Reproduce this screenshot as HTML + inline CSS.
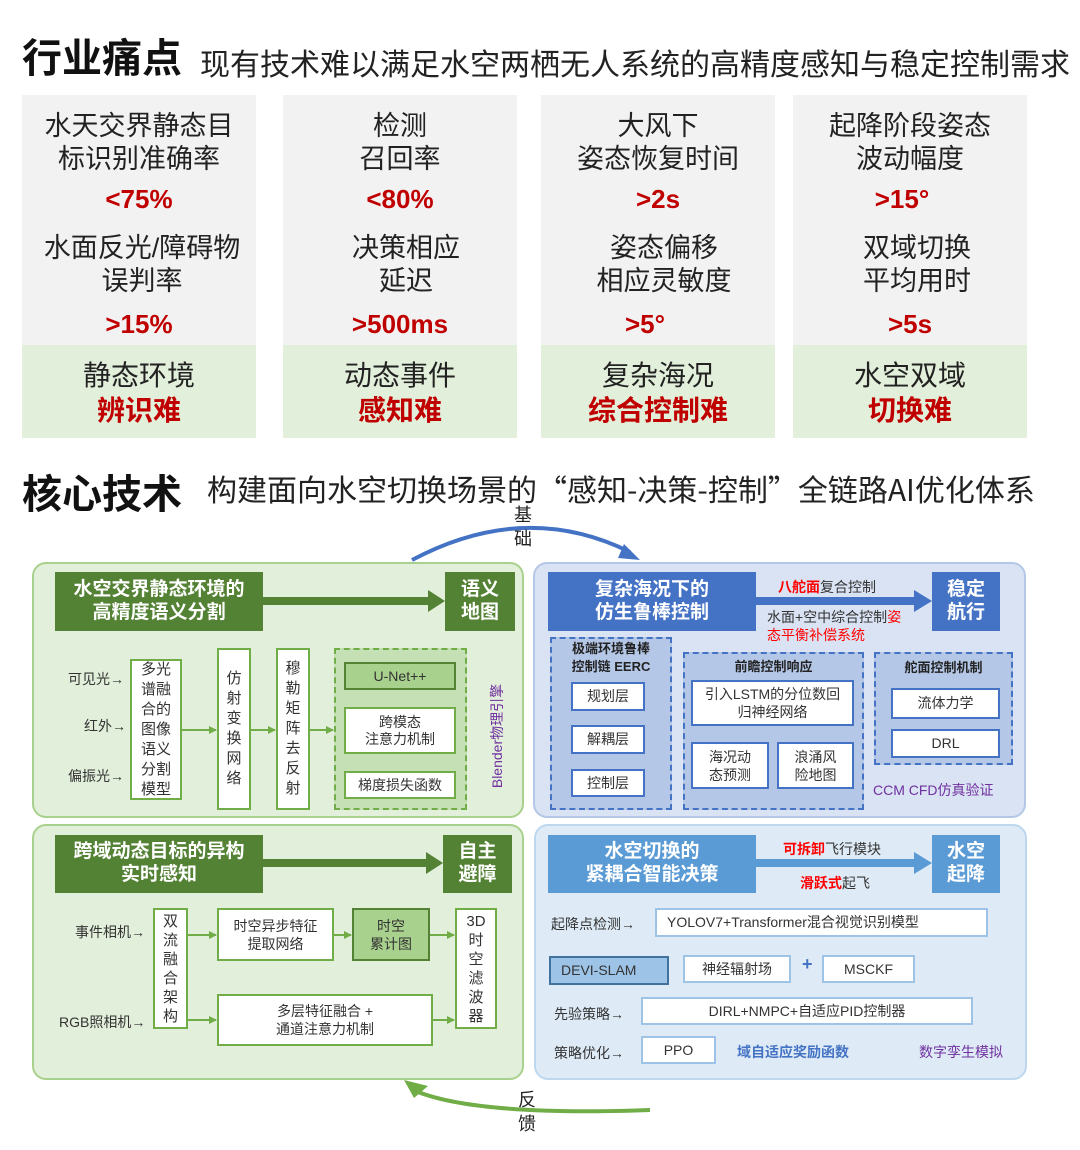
<!DOCTYPE html>
<html><head><meta charset="utf-8"><style>
*{margin:0;padding:0;box-sizing:border-box}
body{width:1080px;height:1150px;background:#fff;position:relative;overflow:hidden;font-family:"Liberation Sans","Noto Sans CJK SC",sans-serif;color:#222}
.a{position:absolute}
.c{position:absolute;display:flex;align-items:center;justify-content:center;text-align:center;line-height:1.2}
.t{position:absolute;white-space:nowrap}
.gray{background:#f2f2f2}
.lg{background:#e2efda}
.m{font-size:27px;color:#222;line-height:33px;text-align:center;width:234px;white-space:nowrap}
.r{font-size:26px;color:#c00000;font-weight:bold;text-align:center;width:234px}
.gh{background:#548235;color:#fff;font-size:19px;font-weight:bold}
.bh{background:#4472c4;color:#fff;font-size:19px;font-weight:bold}
.lbh{background:#5b9bd5;color:#fff;font-size:19px;font-weight:bold}
.wg{background:#fff;border:2px solid #70ad47;font-size:15px;color:#333}
.wb{background:#fff;border:2px solid #4472c4;font-size:14px;color:#333}
.wl{background:#fff;border:2px solid #9dc3e6;font-size:14px;color:#333}
.s{font-size:14px;color:#333}
.red{color:#ff0000;font-weight:bold}
</style></head><body>

<div class="t" style="left:22px;top:26px;font-size:40px;font-weight:bold;color:#111">行业痛点</div>
<div class="t" style="left:200px;top:40px;font-size:30px;color:#222">现有技术难以满足水空两栖无人系统的高精度感知与稳定控制需求</div>

<div class="a gray" style="left:22px;top:95px;width:234px;height:250px"></div>
<div class="a lg" style="left:22px;top:345px;width:234px;height:93px"></div>
<div class="a gray" style="left:283px;top:95px;width:234px;height:250px"></div>
<div class="a lg" style="left:283px;top:345px;width:234px;height:93px"></div>
<div class="a gray" style="left:541px;top:95px;width:234px;height:250px"></div>
<div class="a lg" style="left:541px;top:345px;width:234px;height:93px"></div>
<div class="a gray" style="left:793px;top:95px;width:234px;height:250px"></div>
<div class="a lg" style="left:793px;top:345px;width:234px;height:93px"></div>

<div class="a m" style="left:22px;top:110px">水天交界静态目<br>标识别准确率</div>
<div class="a r" style="left:22px;top:184px">&lt;75%</div>
<div class="a m" style="left:25px;top:232px">水面反光/障碍物<br>误判率</div>
<div class="a r" style="left:22px;top:309px">&gt;15%</div>
<div class="a m" style="left:22px;top:358px;font-size:28px;line-height:35px">静态环境<br><span style="color:#c00000;font-weight:bold">辨识难</span></div>

<div class="a m" style="left:283px;top:110px">检测<br>召回率</div>
<div class="a r" style="left:283px;top:184px">&lt;80%</div>
<div class="a m" style="left:289px;top:232px">决策相应<br>延迟</div>
<div class="a r" style="left:283px;top:309px">&gt;500ms</div>
<div class="a m" style="left:283px;top:358px;font-size:28px;line-height:35px">动态事件<br><span style="color:#c00000;font-weight:bold">感知难</span></div>

<div class="a m" style="left:541px;top:110px">大风下<br>姿态恢复时间</div>
<div class="a r" style="left:541px;top:184px">&gt;2s</div>
<div class="a m" style="left:547px;top:232px">姿态偏移<br>相应灵敏度</div>
<div class="a r" style="left:528px;top:309px">&gt;5°</div>
<div class="a m" style="left:541px;top:358px;font-size:28px;line-height:35px">复杂海况<br><span style="color:#c00000;font-weight:bold">综合控制难</span></div>

<div class="a m" style="left:793px;top:110px">起降阶段姿态<br>波动幅度</div>
<div class="a r" style="left:785px;top:184px">&gt;15°</div>
<div class="a m" style="left:800px;top:232px">双域切换<br>平均用时</div>
<div class="a r" style="left:793px;top:309px">&gt;5s</div>
<div class="a m" style="left:793px;top:358px;font-size:28px;line-height:35px">水空双域<br><span style="color:#c00000;font-weight:bold">切换难</span></div>

<div class="t" style="left:22px;top:462px;font-size:40px;font-weight:bold;color:#111">核心技术</div>
<div class="t" style="left:207px;top:466px;font-size:30px;color:#222;font-family:'Noto Sans CJK SC','Liberation Sans',sans-serif">构建面向水空切换场景的“感知-决策-控制”全链路AI优化体系</div>

<div class="a" style="left:32px;top:562px;width:492px;height:256px;background:#e2efda;border:2px solid #a9d18e;border-radius:14px"></div>
<div class="a" style="left:533px;top:562px;width:493px;height:256px;background:#dae3f3;border:2px solid #b4c7e7;border-radius:14px"></div>
<div class="a" style="left:32px;top:824px;width:492px;height:256px;background:#e2efda;border:2px solid #a9d18e;border-radius:14px"></div>
<div class="a" style="left:534px;top:824px;width:493px;height:256px;background:#deebf7;border:2px solid #bdd7ee;border-radius:14px"></div>

<svg class="a" style="left:0;top:0" width="1080" height="1150">
<defs>
<marker id="ag" markerWidth="8" markerHeight="8" refX="7" refY="4" orient="auto" markerUnits="userSpaceOnUse"><path d="M0,0L8,4L0,8z" fill="#70ad47"/></marker>
</defs>
<path d="M412,560 Q525,500 630,552" fill="none" stroke="#4472c4" stroke-width="4"/>
<path d="M624,544 L640,560 L618,558z" fill="#4472c4"/>
<path d="M418,1092 Q480,1116 650,1110" fill="none" stroke="#70ad47" stroke-width="4"/>
<path d="M404,1080 L428,1086 L414,1098z" fill="#70ad47"/>
<path d="M263,597 L428,597 L428,590 L445,601 L428,612 L428,605 L263,605z" fill="#548235"/>
<path d="M756,597 L914,597 L914,590 L932,601 L914,612 L914,605 L756,605z" fill="#4472c4"/>
<path d="M263,859 L426,859 L426,852 L443,863 L426,874 L426,867 L263,867z" fill="#548235"/>
<path d="M756,859 L914,859 L914,852 L932,863 L914,874 L914,867 L756,867z" fill="#5b9bd5"/>
<g stroke="#70ad47" stroke-width="2" marker-end="url(#ag)">
<line x1="182" y1="730" x2="216" y2="730"/>
<line x1="251" y1="730" x2="275" y2="730"/>
<line x1="310" y1="730" x2="333" y2="730"/>
<line x1="188" y1="935" x2="216" y2="935"/>
<line x1="334" y1="935" x2="351" y2="935"/>
<line x1="430" y1="935" x2="454" y2="935"/>
<line x1="188" y1="1020" x2="216" y2="1020"/>
<line x1="433" y1="1020" x2="454" y2="1020"/>
</g>
</svg>
<div class="t" style="left:514px;top:503px;font-size:18px;line-height:24px;width:20px">基<br>础</div>
<div class="t" style="left:518px;top:1088px;font-size:18px;line-height:24px;width:20px">反<br>馈</div>

<div class="c gh" style="left:55px;top:572px;width:208px;height:59px">水空交界静态环境的<br>高精度语义分割</div>
<div class="c gh" style="left:445px;top:572px;width:70px;height:59px">语义<br>地图</div>
<div class="t s" style="left:68px;top:669px">可见光→</div>
<div class="t s" style="left:84px;top:716px">红外→</div>
<div class="t s" style="left:68px;top:766px">偏振光→</div>
<div class="c wg" style="left:130px;top:659px;width:52px;height:141px;font-size:15px;line-height:20px">多光<br>谱融<br>合的<br>图像<br>语义<br>分割<br>模型</div>
<div class="c wg" style="left:217px;top:648px;width:34px;height:162px;font-size:15px;line-height:20px">仿<br>射<br>变<br>换<br>网<br>络</div>
<div class="c wg" style="left:276px;top:648px;width:34px;height:162px;font-size:15px;line-height:20px">穆<br>勒<br>矩<br>阵<br>去<br>反<br>射</div>
<div class="a" style="left:334px;top:648px;width:133px;height:162px;background:#c5e0b4;border:2px dashed #70ad47"></div>
<div class="c" style="left:344px;top:662px;width:112px;height:28px;background:#a9d18e;border:2px solid #548235;font-size:14px;color:#333">U-Net++</div>
<div class="c wg" style="left:344px;top:707px;width:112px;height:47px;font-size:14px">跨模态<br>注意力机制</div>
<div class="c wg" style="left:344px;top:771px;width:112px;height:28px;font-size:14px">梯度损失函数</div>
<div class="t" style="left:441px;top:727px;width:112px;height:18px;text-align:center;font-size:14px;line-height:18px;color:#7030a0;transform:rotate(-90deg)">Blender物理引擎</div>

<div class="c bh" style="left:548px;top:572px;width:208px;height:59px">复杂海况下的<br>仿生鲁棒控制</div>
<div class="c bh" style="left:932px;top:572px;width:68px;height:59px">稳定<br>航行</div>
<div class="t" style="left:778px;top:577px;font-size:14px;color:#333"><span class="red">八舵面</span>复合控制</div>
<div class="t" style="left:767px;top:608px;font-size:14px;line-height:18px;color:#333">水面+空中综合控制<span style="color:#ff0000">姿</span><br><span style="color:#ff0000">态平衡补偿系统</span></div>
<div class="a" style="left:550px;top:637px;width:122px;height:173px;background:#b4c7e7;border:2px dashed #4472c4"></div>
<div class="t" style="left:550px;top:640px;width:122px;text-align:center;font-size:13px;font-weight:bold;line-height:18px">极端环境鲁棒<br>控制链 EERC</div>
<div class="c wb" style="left:571px;top:682px;width:74px;height:29px">规划层</div>
<div class="c wb" style="left:571px;top:725px;width:74px;height:29px">解耦层</div>
<div class="c wb" style="left:571px;top:769px;width:74px;height:28px">控制层</div>
<div class="a" style="left:683px;top:652px;width:181px;height:158px;background:#b4c7e7;border:2px dashed #4472c4"></div>
<div class="t" style="left:683px;top:656px;width:181px;text-align:center;font-size:13px;font-weight:bold">前瞻控制响应</div>
<div class="c wb" style="left:691px;top:680px;width:163px;height:46px;line-height:18px">引入LSTM的分位数回<br>归神经网络</div>
<div class="c wb" style="left:691px;top:742px;width:78px;height:47px;line-height:18px">海况动<br>态预测</div>
<div class="c wb" style="left:777px;top:742px;width:77px;height:47px;line-height:18px">浪涌风<br>险地图</div>
<div class="a" style="left:874px;top:652px;width:139px;height:113px;background:#b4c7e7;border:2px dashed #4472c4"></div>
<div class="t" style="left:874px;top:657px;width:139px;text-align:center;font-size:13px;font-weight:bold">舵面控制机制</div>
<div class="c wb" style="left:891px;top:688px;width:109px;height:31px">流体力学</div>
<div class="c wb" style="left:891px;top:729px;width:109px;height:29px">DRL</div>
<div class="t" style="left:873px;top:780px;font-size:14px;color:#7030a0">CCM CFD仿真验证</div>

<div class="c gh" style="left:55px;top:835px;width:208px;height:58px">跨域动态目标的异构<br>实时感知</div>
<div class="c gh" style="left:443px;top:835px;width:69px;height:58px">自主<br>避障</div>
<div class="t s" style="left:75px;top:922px">事件相机→</div>
<div class="t s" style="left:59px;top:1012px">RGB照相机→</div>
<div class="c wg" style="left:153px;top:908px;width:35px;height:121px;line-height:19px">双<br>流<br>融<br>合<br>架<br>构</div>
<div class="c wg" style="left:217px;top:908px;width:117px;height:53px;font-size:14px;line-height:18px">时空异步特征<br>提取网络</div>
<div class="c" style="left:352px;top:908px;width:78px;height:53px;background:#a9d18e;border:2px solid #548235;font-size:14px;line-height:18px;color:#333">时空<br>累计图</div>
<div class="c wg" style="left:455px;top:908px;width:42px;height:121px;line-height:19px">3D<br>时<br>空<br>滤<br>波<br>器</div>
<div class="c wg" style="left:217px;top:994px;width:216px;height:52px;font-size:14px;line-height:18px">多层特征融合 +<br>通道注意力机制</div>

<div class="c lbh" style="left:548px;top:835px;width:208px;height:58px">水空切换的<br>紧耦合智能决策</div>
<div class="c lbh" style="left:932px;top:835px;width:68px;height:58px">水空<br>起降</div>
<div class="t" style="left:783px;top:839px;font-size:14px;color:#333"><span class="red">可拆卸</span>飞行模块</div>
<div class="t" style="left:800px;top:873px;font-size:14px;color:#333"><span class="red">滑跃式</span>起飞</div>
<div class="t s" style="left:551px;top:914px">起降点检测→</div>
<div class="c wl" style="left:655px;top:908px;width:333px;height:29px;justify-content:flex-start;padding-left:10px">YOLOV7+Transformer混合视觉识别模型</div>
<div class="c" style="left:549px;top:956px;width:120px;height:29px;background:#9dc3e6;border:2px solid #41719c;font-size:14px;color:#333;justify-content:flex-start;padding-left:10px">DEVI-SLAM</div>
<div class="c wl" style="left:683px;top:955px;width:108px;height:28px">神经辐射场</div>
<div class="t" style="left:802px;top:954px;font-size:18px;color:#4472c4;font-weight:bold">+</div>
<div class="c wl" style="left:822px;top:955px;width:93px;height:28px">MSCKF</div>
<div class="t s" style="left:554px;top:1004px">先验策略→</div>
<div class="c wl" style="left:641px;top:997px;width:332px;height:28px">DIRL+NMPC+自适应PID控制器</div>
<div class="t s" style="left:554px;top:1043px">策略优化→</div>
<div class="c wl" style="left:641px;top:1036px;width:75px;height:28px">PPO</div>
<div class="t" style="left:737px;top:1042px;font-size:14px;color:#4472c4;font-weight:bold">域自适应奖励函数</div>
<div class="t" style="left:919px;top:1042px;font-size:14px;color:#7030a0">数字孪生模拟</div>
</body></html>
